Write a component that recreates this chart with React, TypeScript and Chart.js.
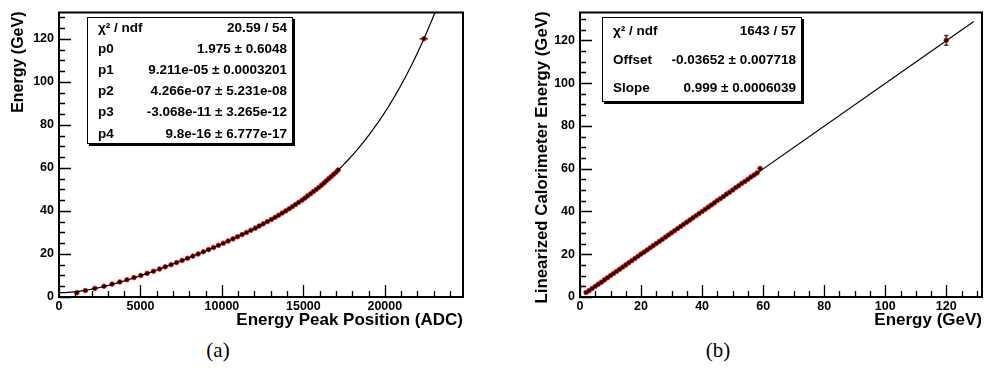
import React, { useEffect, useRef } from 'react';
import { Chart, registerables } from 'chart.js';

Chart.register(...registerables);

// ---------------- data ----------------
// beam energies (GeV) shared by both panels
const beamEnergy = [
  2, 3, 4, 5, 6, 7, 8, 9, 10, 11, 12, 13, 14, 15, 16, 17, 18, 19, 20, 21,
  22, 23, 24, 25, 26, 27, 28, 29, 30, 31, 32, 33, 34, 35, 36, 37, 38, 39, 40, 41,
  42, 43, 44, 45, 46, 47, 48, 49, 50, 51, 52, 53, 54, 55, 56, 57, 58, 59, 120,
];
// panel (a): energy peak position in ADC for each beam energy
const adcPeak = [
  1100, 1620, 2200, 2760, 3260, 3730, 4170, 4600, 5020, 5410, 5800, 6170, 6520, 6880, 7220, 7560, 7890, 8220, 8540, 8860,
  9180, 9490, 9790, 10090, 10380, 10680, 10960, 11240, 11510, 11780, 12050, 12290, 12540, 12790, 13030, 13260, 13480, 13700, 13920, 14130,
  14330, 14520, 14720, 14920, 15100, 15270, 15450, 15620, 15790, 15960, 16120, 16270, 16410, 16560, 16710, 16860, 17010, 17130, 22400,
];
const adcErr = [
  0, 0, 0, 0, 0, 0, 0, 0, 0, 0, 0, 0, 0, 0, 0, 0, 0, 0, 0, 0,
  0, 0, 0, 0, 0, 0, 0, 0, 0, 0, 0, 0, 0, 0, 0, 0, 0, 0, 0, 0,
  0, 0, 0, 0, 0, 0, 0, 0, 0, 0, 0, 0, 0, 0, 0, 0, 0, 0, 260,
];
// panel (a) fit: pol4 parameters p0..p4
const pol4Params = [1.975, 9.211e-5, 4.266e-7, -3.068e-11, 9.8e-16];
const pol4Range = [0, 24800];

// panel (b): linearized calorimeter energy for each beam energy
const linEnergy = [
  2.1, 3.0, 4.0, 5.0, 6.0, 6.9, 8.0, 9.0, 10.0, 11.0, 12.0, 13.0, 14.0, 15.0, 16.0, 17.0, 18.0, 19.0, 20.1, 21.0,
  22.0, 23.0, 24.0, 25.0, 26.0, 27.0, 28.0, 29.0, 30.0, 31.0, 32.0, 33.0, 34.0, 35.0, 36.0, 37.0, 38.0, 39.0, 40.0, 41.0,
  42.0, 43.0, 44.0, 45.1, 46.0, 47.0, 48.1, 49.0, 50.0, 51.1, 52.0, 53.1, 54.0, 55.0, 56.1, 57.0, 58.0, 60.1, 120.0,
];
const linErr = [
  0, 0, 0, 0, 0, 0, 0, 0, 0, 0, 0, 0, 0, 0, 0, 0, 0, 0, 0, 0,
  0, 0, 0, 0, 0, 0, 0, 0, 0, 0, 0, 0, 0, 0, 0, 0, 0, 0, 0, 0,
  0, 0, 0, 0, 0, 0, 0, 0, 0, 0, 0, 0, 0, 0, 0, 0, 0, 0, 2.3,
];
// panel (b) fit: offset, slope
const linParams = [-0.03652, 0.999];
const linRange = [1.5, 129];

// stat boxes
const statA: [string, string][] = [
  ['χ² / ndf', '20.59 / 54'],
  ['p0', '1.975 ± 0.6048'],
  ['p1', '9.211e-05 ± 0.0003201'],
  ['p2', '4.266e-07 ± 5.231e-08'],
  ['p3', '-3.068e-11 ± 3.265e-12'],
  ['p4', '9.8e-16 ± 6.777e-17'],
];
const statB: [string, string][] = [
  ['χ² / ndf', '1643 / 57'],
  ['Offset', '-0.03652 ± 0.007718'],
  ['Slope', '0.999 ± 0.0006039'],
];

// tick labels
const xTickLabelsA = [0, 5000, 10000, 15000, 20000];
const yTickLabelsA = [0, 20, 40, 60, 80, 100, 120];
const xTickLabelsB = [0, 20, 40, 60, 80, 100, 120];
const yTickLabelsB = [0, 20, 40, 60, 80, 100, 120];

const xTicksA = { min: 0, max: 24800, major: 5000, minor: 1000 };
const yTicksA = { min: 0, max: 132.2, major: 20, minor: 5 };
const xTicksB = { min: 0, max: 131.7, major: 20, minor: 5 };
const yTicksB = { min: 0, max: 133, major: 20, minor: 5 };

const FONT = '"Liberation Sans", Arial, Helvetica, sans-serif';

type Axis = { min: number; max: number; major: number; minor: number };
type Panel = {
  canvasLeft: number;
  width: number;
  height: number;
  yAxisWidth: number;
  padRight: number;
  xAxis: Axis;
  yAxis: Axis;
  xLabels: number[];
  yLabels: number[];
  xTitle: string;
  yTitle: string;
  yTitleX: number;
  yTitleSize: number;
  box: { x: number; y: number; w: number; h: number; labelDx: number; rows: [string, string][] };
  datasets: any[];
  errX: number[];
  errY: number[];
  xs: number[];
  ys: number[];
};

function decorPlugin(p: Panel) {
  return {
    id: 'decor',
    beforeDatasetsDraw(chart: any) {
      const ctx = chart.ctx;
      const xs = chart.scales.x;
      const ys = chart.scales.y;
      ctx.save();
      ctx.strokeStyle = '#333';
      ctx.lineWidth = 1.5;
      for (let i = 0; i < p.xs.length; i++) {
        const px = xs.getPixelForValue(p.xs[i]);
        const py = ys.getPixelForValue(p.ys[i]);
        if (p.errX[i] > 0) {
          ctx.beginPath();
          ctx.moveTo(xs.getPixelForValue(p.xs[i] - p.errX[i]), py);
          ctx.lineTo(xs.getPixelForValue(p.xs[i] + p.errX[i]), py);
          ctx.stroke();
        }
        if (p.errY[i] > 0) {
          const y0 = ys.getPixelForValue(p.ys[i] - p.errY[i]);
          const y1 = ys.getPixelForValue(p.ys[i] + p.errY[i]);
          ctx.beginPath();
          ctx.moveTo(px, y0);
          ctx.lineTo(px, y1);
          ctx.moveTo(px - 2, y0);
          ctx.lineTo(px + 2, y0);
          ctx.moveTo(px - 2, y1);
          ctx.lineTo(px + 2, y1);
          ctx.stroke();
        }
      }
      ctx.restore();
    },
    afterDraw(chart: any) {
      const ctx = chart.ctx;
      const a = chart.chartArea;
      const xs = chart.scales.x;
      const ys = chart.scales.y;
      ctx.save();
      // frame
      ctx.strokeStyle = '#000';
      ctx.lineWidth = 2;
      ctx.strokeRect(a.left, a.top, a.right - a.left, a.bottom - a.top);
      // ticks (inside)
      ctx.lineWidth = 1.3;
      ctx.beginPath();
      const xa = p.xAxis;
      for (let v = xa.min; v <= xa.max + 1e-9; v += xa.minor) {
        const isMajor = Math.abs(v / xa.major - Math.round(v / xa.major)) < 1e-6;
        const px = Math.round(xs.getPixelForValue(v)) + 0.5;
        ctx.moveTo(px, a.bottom);
        ctx.lineTo(px, a.bottom - (isMajor ? 12 : 6));
      }
      const ya = p.yAxis;
      for (let v = ya.min; v <= ya.max + 1e-9; v += ya.minor) {
        const isMajor = Math.abs(v / ya.major - Math.round(v / ya.major)) < 1e-6;
        const py = Math.round(ys.getPixelForValue(v)) + 0.5;
        ctx.moveTo(a.left, py);
        ctx.lineTo(a.left + (isMajor ? 12 : 6), py);
      }
      ctx.stroke();
      // axis titles
      ctx.fillStyle = '#000';
      ctx.font = `bold 17px ${FONT}`;
      ctx.textAlign = 'right';
      ctx.textBaseline = 'alphabetic';
      ctx.fillText(p.xTitle, a.right, 325);
      ctx.save();
      ctx.font = `bold ${p.yTitleSize}px ${FONT}`;
      ctx.translate(p.yTitleX, a.top - 1);
      ctx.rotate(-Math.PI / 2);
      ctx.textAlign = 'right';
      ctx.fillText(p.yTitle, 0, 0);
      ctx.restore();
      // stat box
      const b = p.box;
      const bx = b.x - p.canvasLeft;
      ctx.fillStyle = '#000';
      ctx.fillRect(bx + 2, b.y + 2, b.w, b.h);
      ctx.fillStyle = '#fff';
      ctx.fillRect(bx, b.y, b.w, b.h);
      ctx.strokeStyle = '#000';
      ctx.lineWidth = 1;
      ctx.strokeRect(bx + 0.5, b.y + 0.5, b.w - 1, b.h - 1);
      ctx.fillStyle = '#000';
      ctx.font = `bold 13.5px ${FONT}`;
      ctx.textBaseline = 'middle';
      const rh = b.h / b.rows.length;
      b.rows.forEach(([lab, val], i) => {
        const cy = b.y + rh * (i + 0.5) + 0.5;
        ctx.textAlign = 'left';
        ctx.fillText(lab, bx + b.labelDx, cy);
        ctx.textAlign = 'right';
        ctx.fillText(val, bx + b.w - 6, cy);
      });
      ctx.restore();
    },
  };
}

function PanelChart({ p }: { p: Panel }) {
  const ref = useRef<HTMLCanvasElement | null>(null);
  useEffect(() => {
    if (!ref.current) return;
    const tickFont = { family: FONT, weight: 'bold' as const, size: 12.5 };
    const chart = new Chart(ref.current, {
      type: 'scatter',
      data: { datasets: p.datasets },
      options: {
        animation: false,
        responsive: false,
        devicePixelRatio: 1,
        layout: { padding: { left: 0, top: 4, right: p.padRight, bottom: 0 } },
        plugins: { legend: { display: false }, tooltip: { enabled: false } },
        scales: {
          x: {
            type: 'linear',
            min: p.xAxis.min,
            max: p.xAxis.max,
            afterBuildTicks: (s: any) => { s.ticks = p.xLabels.map((v) => ({ value: v })); },
            afterFit: (s: any) => { s.height = p.height - 297; },
            grid: { display: false, drawTicks: false },
            border: { display: false },
            ticks: {
              autoSkip: false,
              maxRotation: 0,
              padding: 2,
              color: '#000',
              font: tickFont,
              callback: (v: any) => String(v),
            },
          },
          y: {
            type: 'linear',
            min: p.yAxis.min,
            max: p.yAxis.max,
            afterBuildTicks: (s: any) => { s.ticks = p.yLabels.map((v) => ({ value: v })); },
            afterFit: (s: any) => { s.width = p.yAxisWidth; },
            grid: { display: false, drawTicks: false },
            border: { display: false },
            ticks: {
              autoSkip: false,
              padding: 5,
              color: '#000',
              font: tickFont,
              callback: (v: any) => String(v),
            },
          },
        },
      },
      plugins: [decorPlugin(p)],
    } as any);
    return () => chart.destroy();
  }, [p]);
  return (
    <canvas
      ref={ref}
      width={p.width}
      height={p.height}
      style={{ position: 'absolute', left: p.canvasLeft, top: 0, width: p.width, height: p.height }}
    />
  );
}

function pol4(x: number) {
  return pol4Params.reduce((s, c, i) => s + c * Math.pow(x, i), 0);
}

const curveA: { x: number; y: number }[] = [];
for (let x = pol4Range[0]; x <= pol4Range[1]; x += 100) curveA.push({ x, y: pol4(x) });
const lineB = linRange.map((x) => ({ x, y: linParams[0] + linParams[1] * x }));

const pointStyle = {
  showLine: false,
  pointRadius: 2.3,
  pointBackgroundColor: '#000',
  pointBorderColor: '#ff1010',
  pointBorderWidth: 1,
  order: 1,
};
const fitStyle = {
  showLine: true,
  pointRadius: 0,
  borderColor: '#000',
  borderWidth: 1.2,
  tension: 0,
  order: 0,
};

const panelA: Panel = {
  canvasLeft: 0,
  width: 480,
  height: 330,
  yAxisWidth: 59,
  padRight: 17,
  xAxis: xTicksA,
  yAxis: yTicksA,
  xLabels: xTickLabelsA,
  yLabels: yTickLabelsA,
  xTitle: 'Energy Peak Position (ADC)',
  yTitle: 'Energy (GeV)',
  yTitleX: 23,
  yTitleSize: 16,
  box: { x: 87, y: 17, w: 206, h: 127, labelDx: 11, rows: statA },
  datasets: [
    { ...fitStyle, data: curveA },
    { ...pointStyle, data: adcPeak.map((x, i) => ({ x, y: beamEnergy[i] })) },
  ],
  errX: adcErr,
  errY: adcErr.map(() => 0),
  xs: adcPeak,
  ys: beamEnergy,
};

const panelB: Panel = {
  canvasLeft: 490,
  width: 497,
  height: 330,
  yAxisWidth: 90,
  padRight: 3,
  xAxis: xTicksB,
  yAxis: yTicksB,
  xLabels: xTickLabelsB,
  yLabels: yTickLabelsB,
  xTitle: 'Energy (GeV)',
  yTitle: 'Linearized Calorimeter Energy (GeV)',
  yTitleX: 57,
  yTitleSize: 16.8,
  box: { x: 602, y: 17, w: 200, h: 85, labelDx: 11, rows: statB },
  datasets: [
    { ...fitStyle, data: lineB },
    { ...pointStyle, data: beamEnergy.map((x, i) => ({ x, y: linEnergy[i] })) },
  ],
  errX: linErr.map(() => 0),
  errY: linErr,
  xs: beamEnergy,
  ys: linEnergy,
};

export default function App() {
  const cap: React.CSSProperties = {
    position: 'absolute',
    top: 338,
    width: 60,
    textAlign: 'center',
    fontFamily: '"Liberation Serif", "Times New Roman", serif',
    fontSize: 21,
    lineHeight: '24px',
    color: '#000',
  };
  return (
    <div style={{ position: 'absolute', left: 0, top: 0, width: 987, height: 382, background: '#fff', overflow: 'hidden' }}>
      <PanelChart p={panelA} />
      <PanelChart p={panelB} />
      <div style={{ ...cap, left: 218 - 30 }}>(a)</div>
      <div style={{ ...cap, left: 718 - 30 }}>(b)</div>
    </div>
  );
}
